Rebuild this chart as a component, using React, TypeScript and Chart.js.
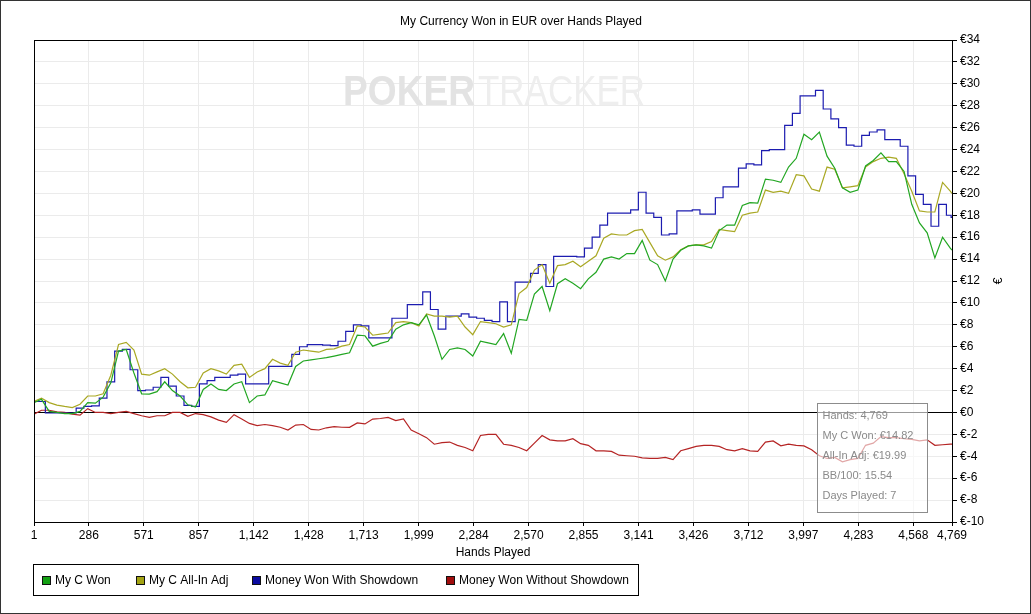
import React, { useEffect, useRef } from 'react';
import { Chart, registerables } from 'chart.js';

Chart.register(...registerables);

// ---- data ----
const hands = [1, 40, 80, 120, 160, 200, 240, 280, 320, 360, 400, 440, 480, 520, 560, 600, 640, 680, 720, 760, 800, 840, 880, 920, 960, 1000, 1040, 1080, 1120, 1160, 1200, 1240, 1280, 1320, 1360, 1400, 1440, 1480, 1520, 1560, 1600, 1640, 1680, 1720, 1760, 1800, 1840, 1880, 1920, 1960, 2000, 2040, 2080, 2120, 2160, 2200, 2240, 2280, 2320, 2360, 2400, 2440, 2480, 2520, 2560, 2600, 2640, 2680, 2720, 2760, 2800, 2840, 2880, 2920, 2960, 3000, 3040, 3080, 3120, 3160, 3200, 3240, 3280, 3320, 3360, 3400, 3440, 3480, 3520, 3560, 3600, 3640, 3680, 3720, 3760, 3800, 3840, 3880, 3920, 3960, 4000, 4040, 4080, 4120, 4160, 4200, 4240, 4280, 4320, 4360, 4400, 4440, 4480, 4520, 4560, 4600, 4640, 4680, 4720, 4760, 4769];

const myCWon = [
  0.9, 1.2, 0.1, 0.0, -0.1, -0.1, 0.1, 0.9, 0.85, 1.4,
  2.7, 5.6, 5.75, 3.6, 1.7, 1.67, 1.9, 2.8, 2.0, 1.5,
  0.7, 0.5, 2.1, 2.6, 2.1, 2.0, 2.6, 2.8, 0.9, 1.5,
  1.6, 2.9, 2.7, 2.5, 4.2, 4.7, 4.8, 4.9, 5.0, 5.15,
  5.3, 5.45, 7.05, 7.0, 6.05, 6.3, 6.5, 7.6, 8.0, 8.2,
  8.0, 8.9, 7.0, 4.85, 5.75, 5.9, 5.75, 5.15, 6.5, 6.35,
  6.2, 7.2, 5.4, 8.5, 8.4, 10.8, 11.5, 9.3, 11.75, 12.2,
  11.8, 11.3, 12.2, 12.8, 14.0, 14.2, 14.0, 14.5, 14.5, 15.7,
  13.9, 13.5, 12.0, 14.0, 14.8, 15.2, 15.3, 15.2, 15.0, 16.6,
  17.1, 17.1, 18.9, 19.15, 19.1, 21.3, 21.2, 21.0, 22.4, 23.2,
  25.4, 24.9, 25.6, 23.4, 22.3, 20.5, 20.1, 20.3, 22.5, 23.0,
  23.7, 22.9, 22.9, 22.0, 19.0, 17.3, 16.4, 14.1, 16.0, 15.0,
  14.82,
];

const myCAllInAdj = [
  1.0, 1.3, 0.9, 0.67, 0.55, 0.45, 0.75, 1.5, 1.5, 1.7,
  3.4, 6.2, 6.4, 5.7, 3.5, 3.4, 3.7, 4.0, 3.5, 2.8,
  2.25, 2.3, 3.6, 4.0, 3.8, 3.5, 4.3, 4.4, 3.2, 3.7,
  4.0, 4.85, 4.5, 4.3, 5.5, 5.7, 5.6, 5.5, 5.75, 5.8,
  6.05, 6.2, 7.9, 7.8, 7.05, 7.15, 7.25, 8.2, 8.3, 8.2,
  7.9, 9.0, 8.8, 8.8, 8.7, 8.8, 7.8, 7.1, 8.3, 8.2,
  8.1, 7.8, 8.0, 10.85, 11.4, 13.0, 13.5, 11.8, 13.4, 13.5,
  13.8, 13.3, 13.8, 14.3, 15.9, 16.3, 16.2, 16.2, 16.6, 16.7,
  15.5, 14.3, 13.9, 14.2, 14.85, 15.2, 15.3, 15.3, 15.6, 16.7,
  16.6, 16.5, 18.0, 18.2, 18.3, 20.3, 20.1, 20.2, 20.0, 21.7,
  21.6, 20.4, 20.2, 22.4, 22.2, 20.5, 20.6, 20.7, 22.4, 22.9,
  23.2, 23.3, 23.2, 21.8, 20.2, 18.4, 18.3, 18.3, 21.0, 20.2,
  19.99,
];

const wonWithShowdown = [
  1.0, 1.0, -0.05, -0.05, -0.05, -0.05, 0.4, 0.55, 0.6, 1.3,
  2.8, 5.6, 5.75, 3.9, 2.0, 2.05, 2.3, 3.2, 2.4, 1.5,
  0.65, 0.55, 2.6, 2.9, 3.2, 3.2, 3.4, 3.5, 2.6, 2.6,
  2.6, 4.2, 4.2, 4.2, 5.3, 6.0, 6.2, 6.2, 6.15, 6.1,
  6.5, 7.4, 8.0, 7.9, 6.8, 6.8, 6.8, 8.6, 8.6, 9.85,
  9.85, 11.0, 9.4, 7.6, 8.8, 8.8, 9.0, 8.7, 8.6, 8.4,
  8.3, 10.1, 8.3, 11.9, 11.9, 12.7, 13.5, 11.5, 14.25, 14.25,
  14.25, 14.2, 15.0, 16.0, 17.1, 18.2, 18.2, 18.2, 18.5, 20.1,
  18.2, 17.8, 16.2, 16.3, 18.4, 18.4, 18.5, 18.1, 18.1, 19.6,
  20.6, 20.6, 22.3, 22.7, 22.6, 23.9, 24.0, 24.0, 26.2, 27.3,
  28.9, 28.9, 29.4, 27.7, 26.8, 26.0, 24.4, 24.3, 25.3, 25.6,
  25.8, 24.9, 24.9, 24.3, 21.6, 19.9, 19.0, 17.0, 19.0, 18.0,
  17.8,
];

const wonWithoutShowdown = [
  -0.15, 0.2, 0.2, 0.05, 0.0, -0.15, -0.25, 0.35, 0.0, 0.0,
  -0.1, 0.0, 0.1, -0.1, -0.3, -0.45, -0.3, -0.3, 0.0, 0.0,
  -0.35, -0.1, -0.2, -0.4, -0.7, -0.9, -0.2, -0.6, -1.0, -1.2,
  -1.1, -1.2, -1.35, -1.6, -1.15, -1.1, -1.55, -1.6, -1.4, -1.3,
  -1.35, -1.36, -0.95, -1.05, -0.6, -0.55, -0.45, -0.75, -0.6, -1.6,
  -1.95, -2.3, -2.9, -2.75, -2.7, -3.0, -3.2, -3.5, -2.1, -2.0,
  -2.0, -2.9, -3.0, -3.2, -3.5, -2.8, -2.1, -2.5, -2.6, -2.6,
  -2.4, -2.85, -3.0, -3.5, -3.5, -3.55, -3.9, -3.95, -4.0, -4.15,
  -4.2, -4.2, -4.1, -4.3, -3.5, -3.3, -3.1, -3.0, -3.0, -3.1,
  -3.4, -3.5, -3.3, -3.5, -3.55, -2.7, -2.6, -3.05, -2.9, -3.0,
  -3.05, -3.4, -3.95, -4.2, -4.1, -4.5, -4.3, -4.2, -3.0, -2.8,
  -2.2, -2.3, -2.3, -2.4, -2.45, -2.6, -2.5, -3.0, -2.95, -2.9,
  -2.9,
];

const xTickValues = [1, 286, 571, 857, 1142, 1428, 1713, 1999, 2284, 2570, 2855, 3141, 3426, 3712, 3997, 4283, 4568, 4769];
const seriesLabels = ['My C Won', 'My C All-In Adj', 'Money Won With Showdown', 'Money Won Without Showdown'];
const seriesColors = ['#22a622', '#a9a824', '#1c1cb0', '#b52424'];
const seriesStepped = [false, false, 'middle', false];
const legendSwatchColors = ['#13a013', '#a3a312', '#0a0aa0', '#a00c0c'];
const bb100 = '15.54';
const daysPlayed = 7;

const FONT = "'Liberation Sans', Arial, sans-serif";

const fmt = (v: number) => v.toLocaleString('en-US');

const decorPlugin = {
  id: 'decor',
  beforeDraw(chart: any) {
    const { ctx, width, height } = chart;
    ctx.save();
    ctx.fillStyle = '#ffffff';
    ctx.fillRect(0, 0, width, height);
    ctx.restore();
  },
  beforeDatasetsDraw(chart: any) {
    const { ctx } = chart;
    ctx.save();
    // watermark
    ctx.textBaseline = 'alphabetic';
    ctx.font = `bold 42px ${FONT}`;
    const w1 = ctx.measureText('POKER').width;
    ctx.save();
    ctx.translate(343, 105);
    ctx.scale(132 / w1, 1);
    ctx.fillStyle = '#e3e3e3';
    ctx.fillText('POKER', 0, 0);
    ctx.restore();
    ctx.font = `42px ${FONT}`;
    const w2 = ctx.measureText('TRACKER').width;
    ctx.save();
    ctx.translate(478, 105);
    ctx.scale(167 / w2, 1);
    ctx.fillStyle = '#eeeeee';
    ctx.fillText('TRACKER', 0, 0);
    ctx.restore();
    ctx.restore();
  },
  afterDraw(chart: any) {
    const { ctx, chartArea: a, width, height } = chart;
    ctx.save();
    // plot frame
    ctx.strokeStyle = '#000';
    ctx.lineWidth = 1;
    ctx.strokeRect(Math.round(a.left) + 0.5, Math.round(a.top) + 0.5, Math.round(a.right - a.left), Math.round(a.bottom - a.top));
    // outer frame
    ctx.strokeStyle = '#333';
    ctx.strokeRect(0.5, 0.5, width - 1, height - 1);

    // title
    ctx.fillStyle = '#000';
    ctx.font = `12px ${FONT}`;
    ctx.textAlign = 'center';
    ctx.textBaseline = 'middle';
    ctx.fillText('My Currency Won in EUR over Hands Played', 521, 22);
    // x title
    ctx.fillText('Hands Played', (a.left + a.right) / 2, 553);
    // y title (rotated)
    ctx.save();
    ctx.translate(999, (a.top + a.bottom) / 2);
    ctx.rotate(-Math.PI / 2);
    ctx.fillText('€', 0, 0);
    ctx.restore();

    // legend
    ctx.strokeStyle = '#000';
    ctx.strokeRect(33.5, 564.5, 605, 31);
    const xs = [42, 136, 252, 446];
    ctx.textAlign = 'left';
    chart.data.datasets.forEach((ds: any, i: number) => {
      const x = xs[i];
      ctx.fillStyle = legendSwatchColors[i];
      ctx.fillRect(x, 576, 8, 8);
      ctx.strokeStyle = '#111';
      ctx.strokeRect(x + 0.5, 576.5, 8, 8);
      ctx.fillStyle = '#000';
      ctx.fillText(ds.label, x + 13, 580.5);
    });

    // info box
    const bx = 817.5, by = 403.5, bw = 110, bh = 109;
    ctx.fillStyle = 'rgba(255,255,255,0.6)';
    ctx.fillRect(bx, by, bw, bh);
    ctx.strokeStyle = '#8c8c8c';
    ctx.strokeRect(bx, by, bw, bh);
    ctx.fillStyle = '#8a8a8a';
    ctx.font = `11px ${FONT}`;
    const n = hands.length - 1;
    const lines = [
      `Hands: ${fmt(hands[n])}`,
      `My C Won: €${myCWon[n].toFixed(2)}`,
      `All-In Adj: €${myCAllInAdj[n].toFixed(2)}`,
      `BB/100: ${bb100}`,
      `Days Played: ${daysPlayed}`,
    ];
    lines.forEach((t, i) => ctx.fillText(t, 822.5, 415.5 + i * 20.2));
    ctx.restore();
  },
};

export default function App() {
  const ref = useRef<HTMLCanvasElement | null>(null);

  useEffect(() => {
    document.body.style.margin = '0';
    const canvas = ref.current;
    if (!canvas) return;
    const series = [myCWon, myCAllInAdj, wonWithShowdown, wonWithoutShowdown];
    const chart = new Chart(canvas, {
      type: 'line',
      data: {
        datasets: series.map((vals, i) => ({
          label: seriesLabels[i],
          data: hands.map((h, j) => ({ x: h, y: vals[j] })),
          borderColor: seriesColors[i],
          borderWidth: 1.2,
          pointRadius: 0,
          tension: 0,
          stepped: seriesStepped[i],
          fill: false,
        })),
      },
      options: {
        responsive: false,
        animation: false,
        devicePixelRatio: 1,
        layout: { padding: { left: 34, top: 40, right: 0, bottom: 0 } },
        plugins: {
          legend: { display: false },
          title: { display: false },
          tooltip: { enabled: false },
        },
        font: { family: FONT, size: 12 },
        scales: {
          x: {
            type: 'linear',
            min: 1,
            max: 4769,
            afterFit: (s: any) => { s.height = 92; },
            afterBuildTicks: (s: any) => { s.ticks = xTickValues.map((v) => ({ value: v })); },
            ticks: {
              callback: (v: any) => fmt(Number(v)),
              color: '#000',
              font: { family: FONT, size: 12 },
              padding: 2,
              maxRotation: 0,
              autoSkip: false,
            },
            grid: {
              color: '#ebebeb',
              tickColor: '#000',
              tickLength: 4,
              lineWidth: 1,
            },
            border: { color: '#000' },
          },
          y: {
            position: 'right',
            min: -10,
            max: 34,
            afterFit: (s: any) => { s.width = 79; },
            ticks: {
              stepSize: 2,
              callback: (v: any) => '€' + v,
              color: '#000',
              font: { family: FONT, size: 12 },
              padding: 3,
            },
            grid: {
              color: (c: any) => (c.tick && c.tick.value === 0 ? '#000000' : '#ebebeb'),
              tickColor: '#000',
              tickLength: 5,
              lineWidth: 1,
            },
            border: { color: '#000' },
          },
        },
      } as any,
      plugins: [decorPlugin],
    });
    return () => chart.destroy();
  }, []);

  return (
    <div style={{ width: 1031, height: 614 }}>
      <canvas ref={ref} width={1031} height={614} style={{ display: 'block' }} />
    </div>
  );
}
